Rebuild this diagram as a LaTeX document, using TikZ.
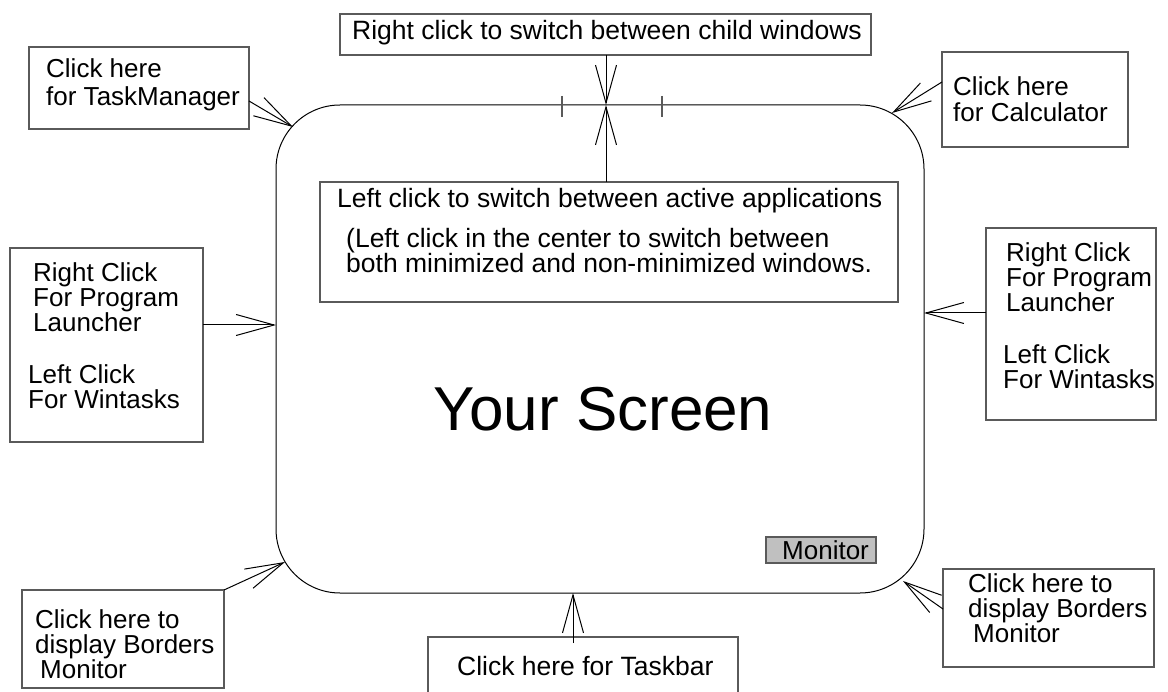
\documentclass[tikz,border=0pt]{standalone}
\usepackage{fontspec}
\setmainfont{Liberation Sans}
\usetikzlibrary{arrows.meta}
\definecolor{boxgray}{RGB}{90,90,90}
\definecolor{monfill}{RGB}{192,192,192}
\tikzset{
  box/.style={draw=boxgray, line width=1.3pt, anchor=north west, inner sep=0pt, outer sep=0pt},
  txt/.style={anchor=base west, inner sep=0pt, text height=17pt, text depth=4pt, font=\fontsize{26}{28}\selectfont},
  arr/.style={draw=black, line width=1pt, -{Straight Barb[length=38pt,width=21pt,line width=1pt]}},
  tick/.style={draw=boxgray, line width=1.3pt}
}
\begin{document}
\begin{tikzpicture}[x=1pt,y=-1pt]
\useasboundingbox (0,0) rectangle (1168,692);
% screen
\node[draw=black, line width=1pt, rounded corners=64pt, minimum width=648pt, minimum height=488pt, inner sep=0pt, outer sep=0pt] (screen) at (600,349) {};
\node[anchor=base, inner sep=0pt, font=\fontsize{62}{66}\selectfont] (title) at (603,431) {Your Screen};
% boxes
\node[box, minimum width=531pt, minimum height=41pt] (top) at (340,14) {};
\node[box, minimum width=578pt, minimum height=120pt] (inner) at (320,182) {};
\node[box, minimum width=220pt, minimum height=82pt] (tm) at (29,47) {};
\node[box, minimum width=186pt, minimum height=95pt] (calc) at (942,52) {};
\node[box, minimum width=193pt, minimum height=194pt] (lbox) at (10,248) {};
\node[box, minimum width=170pt, minimum height=192pt] (rbox) at (986,228) {};
\node[box, minimum width=202pt, minimum height=98pt] (bl) at (22,590) {};
\node[box, minimum width=211pt, minimum height=98pt] (br) at (943,569) {};
\node[box, minimum width=310pt, minimum height=60pt] (bc) at (428,637) {};
\node[box, fill=monfill, minimum width=110pt, minimum height=26pt] (mon) at (766,537) {};
% texts
\node[txt, font=\fontsize{26.5}{28}\selectfont] (ttop) at (352,40) {Right click to switch between child windows};
\node[txt, font=\fontsize{26.5}{28}\selectfont] (tin1) at (337,208) {Left click to switch between active applications};
\node[txt, font=\fontsize{26.5}{28}\selectfont] (tin2) at (346,248) {(Left click in the center to switch between};
\node[txt, font=\fontsize{26.5}{28}\selectfont] (tin3) at (346,273) {both minimized and non-minimized windows.};
\node[txt] (ttm1) at (46,78) {Click here};
\node[txt] (ttm2) at (46,106) {for TaskManager};
\node[txt] (tc1) at (953,96) {Click here};
\node[txt] (tc2) at (953,122) {for Calculator};
\node[txt] (tl1) at (33,282) {Right Click};
\node[txt] (tl2) at (33,307) {For Program};
\node[txt] (tl3) at (33,332) {Launcher};
\node[txt] (tl4) at (28,384) {Left Click};
\node[txt] (tl5) at (28,409) {For Wintasks};
\node[txt] (tr1) at (1006,262) {Right Click};
\node[txt] (tr2) at (1006,287) {For Program};
\node[txt] (tr3) at (1006,312) {Launcher};
\node[txt] (tr4) at (1003,364) {Left Click};
\node[txt] (tr5) at (1003,389) {For Wintasks};
\node[txt] (tbl1) at (35,628) {Click here to};
\node[txt] (tbl2) at (35,653) {display Borders};
\node[txt] (tbl3) at (40,678) {Monitor};
\node[txt] (tbr1) at (968,592) {Click here to};
\node[txt] (tbr2) at (968,617) {display Borders};
\node[txt] (tbr3) at (973,642) {Monitor};
\node[txt, font=\fontsize{26.5}{28}\selectfont] (tbc) at (457,675) {Click here for Taskbar};
\node[txt] (tmon) at (782,559) {Monitor};
% connector end points
\coordinate (tmS) at (249,101);  \coordinate (tmT) at (293,127);
\coordinate (cS) at (942,82);    \coordinate (cT) at (892,113);
\coordinate (lS) at (203,325);   \coordinate (lT) at (276,325);
\coordinate (rS) at (986,313);   \coordinate (rT) at (924,313);
\coordinate (blS) at (224,590);  \coordinate (blT) at (285,562);
\coordinate (brS) at (943,609);  \coordinate (brT) at (903,581);
\coordinate (bcS) at (573,643);  \coordinate (bcT) at (573,593);
\coordinate (topS) at (606,55);  \coordinate (topT) at (606,105);
\coordinate (inS) at (606,182);
% connectors
\draw[arr] (tmS) -- (tmT);
\draw[arr] (cS) -- (cT);
\draw[arr] (lS) -- (lT);
\draw[arr] (rS) -- (rT);
\draw[arr] (blS) -- (blT);
\draw[arr] (brS) -- (brT);
\draw[arr] (bcS) -- (bcT);
\draw[arr] (topS) -- (topT);
\draw[arr] (inS) -- (topT);
% ticks on top edge
\coordinate (k1a) at (562,96); \coordinate (k1b) at (562,117);
\coordinate (k2a) at (662,96); \coordinate (k2b) at (662,117);
\draw[tick] (k1a) -- (k1b);
\draw[tick] (k2a) -- (k2b);
\end{tikzpicture}
\end{document}
